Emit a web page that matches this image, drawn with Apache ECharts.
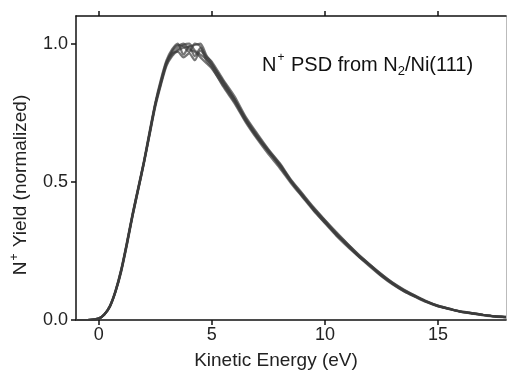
<!DOCTYPE html>
<html>
<head>
<meta charset="utf-8">
<script src="https://cdn.jsdelivr.net/npm/echarts@6/dist/echarts.min.js"></script>
<style>html,body{margin:0;padding:0;background:#fff}#c{width:507px;height:371px}</style>
</head>
<body>
<div id="c"></div>
<script>
// Kinetic energy (eV)
var energy = [-1,-0.5,0,0.25,0.5,0.75,1,1.25,1.5,1.75,2,2.25,2.5,2.75,3,3.25,3.5,3.75,4,4.25,4.5,4.75,5,5.5,6,6.5,7,7.5,8,8.5,9,9.5,10,10.5,11,11.5,12,12.5,13,13.5,14,14.5,15,15.5,16,16.5,17,17.5,18];
// Normalized N+ yield, several overlapping traces
var traceA = [0,0,0.005,0.02,0.05,0.105,0.18,0.275,0.38,0.475,0.57,0.675,0.78,0.86,0.93,0.97,0.99,1.0,0.98,0.97,0.95,0.93,0.91,0.85,0.79,0.72,0.66,0.61,0.56,0.50,0.45,0.40,0.355,0.31,0.27,0.23,0.195,0.16,0.13,0.105,0.085,0.065,0.05,0.04,0.03,0.024,0.018,0.013,0.01];
var traceB = [0,0,0.004,0.019,0.048,0.102,0.175,0.27,0.375,0.47,0.565,0.668,0.77,0.85,0.92,0.955,0.975,0.985,0.99,0.995,1.0,0.96,0.93,0.86,0.80,0.73,0.67,0.615,0.565,0.505,0.455,0.405,0.36,0.315,0.275,0.235,0.2,0.165,0.135,0.11,0.088,0.068,0.052,0.041,0.031,0.025,0.019,0.014,0.011];
var traceC = [0,0,0.006,0.021,0.052,0.108,0.185,0.282,0.385,0.48,0.575,0.682,0.785,0.87,0.94,0.98,1.0,0.96,0.99,0.955,0.985,0.94,0.915,0.845,0.785,0.715,0.655,0.6,0.55,0.495,0.445,0.395,0.35,0.305,0.265,0.228,0.192,0.158,0.128,0.103,0.083,0.064,0.049,0.039,0.029,0.023,0.017,0.012,0.009];
var traceD = [0,0,0.005,0.02,0.05,0.104,0.178,0.276,0.38,0.474,0.57,0.672,0.775,0.855,0.925,0.96,0.98,0.995,1.0,0.975,0.96,0.945,0.925,0.865,0.8,0.725,0.665,0.612,0.555,0.5,0.452,0.398,0.352,0.312,0.268,0.232,0.198,0.162,0.132,0.107,0.086,0.066,0.051,0.04,0.03,0.024,0.018,0.013,0.01];
var traceE = [0,0,0.005,0.02,0.051,0.106,0.182,0.279,0.383,0.478,0.572,0.677,0.78,0.865,0.935,0.965,0.97,0.95,0.965,0.94,0.975,0.95,0.92,0.855,0.795,0.722,0.662,0.608,0.562,0.502,0.448,0.402,0.357,0.308,0.272,0.229,0.197,0.161,0.131,0.104,0.084,0.066,0.05,0.04,0.03,0.024,0.018,0.013,0.01];
var traceF = [0,0,0.005,0.02,0.049,0.104,0.18,0.277,0.378,0.473,0.568,0.674,0.778,0.858,0.93,0.975,0.995,0.99,0.97,1.0,0.99,0.955,0.935,0.87,0.81,0.735,0.675,0.618,0.568,0.508,0.458,0.408,0.362,0.318,0.276,0.236,0.2,0.166,0.134,0.108,0.087,0.067,0.051,0.041,0.031,0.025,0.019,0.014,0.011];
var traces = [traceA, traceB, traceC, traceD, traceE, traceF];
var xTicks = [0, 5, 10, 15];
var yTicks = [0, 0.5, 1.0];

var FONT = '"Liberation Sans", Arial, sans-serif';
var chart = echarts.init(document.getElementById('c'));

var series = traces.map(function (t) {
  return {
    type: 'line',
    data: energy.map(function (x, i) { return [x, t[i]]; }),
    showSymbol: false,
    smooth: 0.25,
    lineStyle: { color: 'rgba(60,60,60,0.7)', width: 2.2 },
    silent: true,
    animation: false
  };
});

var axisLineStyle = { color: '#111', width: 1.5 };

chart.setOption({
  animation: false,
  grid: { left: 76, top: 16, right: 1, bottom: 51 },
  xAxis: [
    {
      type: 'value', min: -1, max: 18, position: 'bottom',
      axisLine: { show: true, onZero: false, lineStyle: axisLineStyle },
      axisTick: { show: true, length: 5, lineStyle: axisLineStyle, customValues: xTicks },
      axisLabel: { customValues: xTicks, fontFamily: FONT, fontSize: 18, color: '#222', margin: 6 },
      splitLine: { show: false }
    },
    {
      type: 'value', min: -1, max: 18, position: 'top',
      axisLine: { show: true, onZero: false, lineStyle: axisLineStyle },
      axisTick: { show: true, length: 5, lineStyle: axisLineStyle, customValues: xTicks },
      axisLabel: { show: false, customValues: xTicks },
      splitLine: { show: false }
    }
  ],
  yAxis: [
    {
      type: 'value', min: 0, max: 1.1, position: 'left',
      axisLine: { show: true, onZero: false, lineStyle: axisLineStyle },
      axisTick: { show: true, length: 5, lineStyle: axisLineStyle, customValues: yTicks },
      axisLabel: { customValues: yTicks, fontFamily: FONT, fontSize: 18, color: '#222', margin: 8,
        formatter: function (v) { return v.toFixed(1); } },
      splitLine: { show: false }
    },
    {
      type: 'value', min: 0, max: 1.1, position: 'right',
      axisLine: { show: true, onZero: false, lineStyle: { color: '#bbb', width: 1 } },
      axisTick: { show: false }, axisLabel: { show: false }, splitLine: { show: false }
    }
  ],
  series: series,
  graphic: [
    {
      type: 'text', left: 262, top: 52,
      style: {
        text: '{a|N}{s|+}{a| PSD from N}{b|2}{a|/Ni(111)}',
        rich: {
          a: { fontFamily: FONT, fontSize: 20, fill: '#111', lineHeight: 26 },
          s: { fontFamily: FONT, fontSize: 12, fill: '#111', lineHeight: 12, verticalAlign: 'top', padding: [0, 1, 0, 1] },
          b: { fontFamily: FONT, fontSize: 13, fill: '#111', lineHeight: 11, verticalAlign: 'bottom' }
        }
      }
    },
    {
      type: 'text', x: 276, y: 361,
      style: { text: 'Kinetic Energy (eV)', fontFamily: FONT, fontSize: 19, fill: '#222', align: 'center', verticalAlign: 'middle' }
    },
    {
      type: 'text', x: 21, y: 185, rotation: Math.PI / 2,
      style: {
        text: '{a|N}{s|+}{a| Yield (normalized)}', align: 'center', verticalAlign: 'middle',
        rich: {
          a: { fontFamily: FONT, fontSize: 19, fill: '#222', lineHeight: 24 },
          s: { fontFamily: FONT, fontSize: 12, fill: '#222', lineHeight: 12, verticalAlign: 'top', padding: [0, 1, 0, 1] }
        }
      }
    }
  ]
});
</script>
</body>
</html>
